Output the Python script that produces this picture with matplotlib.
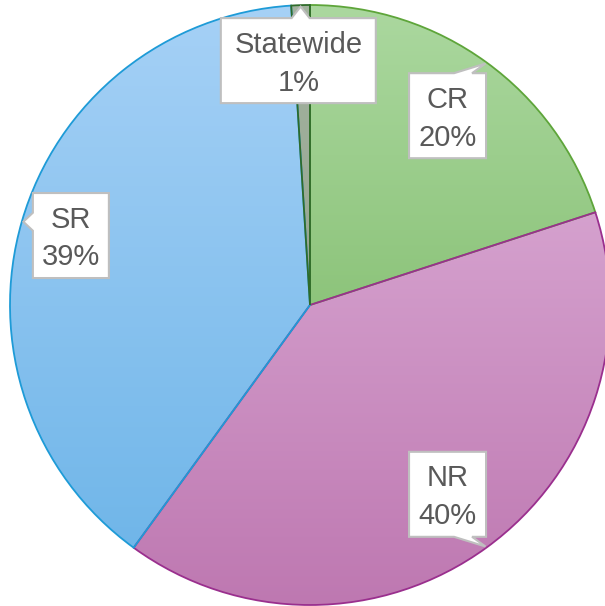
import numpy as np
import matplotlib.pyplot as plt
from matplotlib.colors import LinearSegmentedColormap
from matplotlib.patches import Polygon

labels = ['CR', 'NR', 'SR', 'Statewide']
values = [20, 40, 39, 1]
pcts = ['20%', '40%', '39%', '1%']

top_colors = ['#abd89f', '#d5a1ce', '#a6d1f6', '#a3b39f']
bottom_colors = ['#8dc47b', '#be78b1', '#70b6e9', '#97a693']
edge_colors = ['#5ea53a', '#9a2f8e', '#1e9bd7', '#2f6b2a']

R = 300.0
fig = plt.figure(figsize=(6.05, 6.06), dpi=100)
ax = fig.add_axes([0, 0, 1, 1])

wedges, _ = ax.pie(values, startangle=90, counterclock=False, radius=R,
                   colors=top_colors,
                   wedgeprops=dict(linewidth=1.3, fill=False))

# gradient fill per slice, over the slice's own bounding box
for w, c_top, c_bot, ec in zip(wedges, top_colors, bottom_colors, edge_colors):
    bb = w.get_path().get_extents()
    cmap = LinearSegmentedColormap.from_list('g', [c_bot, c_top])
    grad = np.linspace(0, 1, 256).reshape(-1, 1)
    im = ax.imshow(grad, cmap=cmap, origin='lower', aspect='auto',
                   extent=[bb.x0, bb.x1, bb.y0, bb.y1], zorder=1)
    im.set_clip_path(w)
    w.set_edgecolor(ec)
    w.set_zorder(2)
ax.set_xlim(-310, 295)
ax.set_ylim(-301, 305)
ax.set_aspect('equal')
ax.axis('off')


def callout(cx, cy, w, h, tx, ty, base=18, margin=14):
    l, r, b, t = cx - w / 2, cx + w / 2, cy - h / 2, cy + h / 2
    dx, dy = (tx - cx) / w, (ty - cy) / h
    if abs(dy) >= abs(dx):
        m = min(max(tx, l + margin + base / 2), r - margin - base / 2)
        if dy > 0:
            pts = [(l, b), (r, b), (r, t), (m + base / 2, t), (tx, ty),
                   (m - base / 2, t), (l, t)]
        else:
            pts = [(l, b), (m - base / 2, b), (tx, ty), (m + base / 2, b),
                   (r, b), (r, t), (l, t)]
    else:
        m = min(max(ty, b + margin + base / 2), t - margin - base / 2)
        if dx < 0:
            pts = [(l, b), (r, b), (r, t), (l, t), (l, m + base / 2),
                   (tx, ty), (l, m - base / 2)]
        else:
            pts = [(l, b), (r, b), (r, m - base / 2), (tx, ty),
                   (r, m + base / 2), (r, t), (l, t)]
    ax.add_patch(Polygon(pts, closed=True, facecolor='white',
                         edgecolor='#bfbfbf', linewidth=1.5, zorder=3))


label_r = [0.78, 0.78, 0.83, 0.815]
box_w = [77, 77, 76, 155]
angles = []
start = 90.0
for v in values:
    span = 360.0 * v / sum(values)
    angles.append(start - span / 2)
    start -= span

for lab, p, a, lr, bw in zip(labels, pcts, angles, label_r, box_w):
    rad = np.deg2rad(a)
    cx, cy = lr * R * np.cos(rad), lr * R * np.sin(rad)
    if lab == 'Statewide':
        cx -= 4
    tx, ty = 0.995 * R * np.cos(rad), 0.995 * R * np.sin(rad)
    callout(cx, cy, bw, 85, tx, ty)
    ax.text(cx, cy - 3, lab + '\n' + p, ha='center', va='center', fontsize=21,
            color='#595959', family='Liberation Sans', linespacing=1.45,
            zorder=4)

fig.savefig('out.png', dpi=100)
